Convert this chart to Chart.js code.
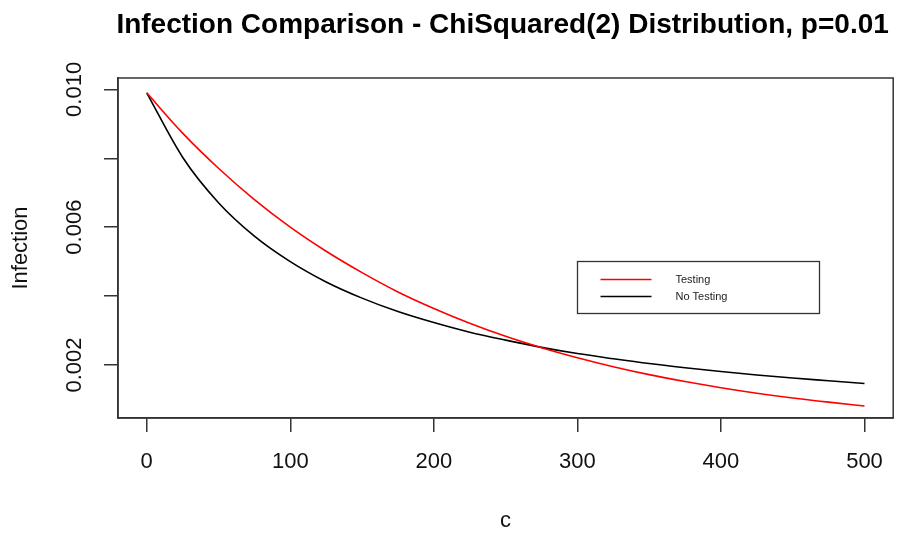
<!DOCTYPE html>
<html lang="en">
<head>
    <meta charset="UTF-8">
    <title>Infection Comparison</title>
    <script src="https://cdn.jsdelivr.net/npm/chart.js"></script>
    <style>
        html, body { margin: 0; padding: 0; background: #fff; }
        canvas { display: block; }
    </style>
</head>
<body>
    <canvas id="infectionChart" width="900" height="534"></canvas>

    <script>
        // values
        const cValues = [0, 25, 50, 75, 100, 125, 150, 175, 200, 225, 250, 275, 300, 325, 350, 375, 400, 425, 450, 475, 500];
        const testing = [0.00990, 0.00873, 0.00771, 0.00680, 0.00600, 0.00530, 0.00468, 0.00412, 0.00364, 0.00321, 0.00283,
                         0.00250, 0.00221, 0.00195, 0.00172, 0.00152, 0.00134, 0.00118, 0.00104, 0.00092, 0.00081];
        const noTesting = [0.00990, 0.00803, 0.00671, 0.00574, 0.00500, 0.00441, 0.00394, 0.00355, 0.00323, 0.00295, 0.00272,
                           0.00251, 0.00233, 0.00218, 0.00204, 0.00192, 0.00181, 0.00171, 0.00162, 0.00154, 0.00146];
        const seriesNames = ['Testing', 'No Testing'];
        const xTicks = [0, 100, 200, 300, 400, 500];
        const yTicks = [0.002, 0.004, 0.006, 0.008, 0.010];
        const yTickLabels = ['0.002', '', '0.006', '', '0.010'];

        const FONT = '"Liberation Sans", Helvetica, Arial, sans-serif';
        const AXIS = '#333';

        // title, full box and the R style legend
        const rDecor = {
            id: 'rDecor',
            afterDraw(chart) {
                const ctx = chart.ctx;
                const a = chart.chartArea;
                const xs = chart.scales.x, ys = chart.scales.y;
                ctx.save();

                ctx.strokeStyle = AXIS;
                ctx.lineWidth = 1.5;
                ctx.strokeRect(a.left, a.top, a.right - a.left, a.bottom - a.top);

                ctx.fillStyle = '#000';
                ctx.font = 'bold 28px ' + FONT;
                ctx.textAlign = 'center';
                ctx.textBaseline = 'alphabetic';
                ctx.fillText('Infection Comparison - ChiSquared(2) Distribution, p=0.01', (a.left + a.right) / 2 - 3, 33);

                // legend anchored at c=300, y=0.00502
                const lx = Math.round(xs.getPixelForValue(300)) + 0.5;
                const ly = Math.round(ys.getPixelForValue(0.00502)) + 0.5;
                ctx.lineWidth = 1.3;
                ctx.strokeStyle = AXIS;
                ctx.strokeRect(lx, ly, 242, 52);
                ctx.font = '11px ' + FONT;
                ctx.textAlign = 'left';
                ctx.textBaseline = 'middle';
                chart.data.datasets.forEach((ds, i) => {
                    const y = ly + 18 + i * 17;
                    ctx.strokeStyle = ds.borderColor;
                    ctx.lineWidth = 1.5;
                    ctx.beginPath();
                    ctx.moveTo(lx + 23, y);
                    ctx.lineTo(lx + 74, y);
                    ctx.stroke();
                    ctx.fillStyle = '#222';
                    ctx.fillText(ds.label, lx + 98, y);
                });
                ctx.restore();
            }
        };

        const ctx = document.getElementById('infectionChart').getContext('2d');
        const chart = new Chart(ctx, {
            type: 'line',
            data: {
                datasets: [
                    {
                        label: seriesNames[0],
                        data: cValues.map((c, i) => ({ x: c, y: testing[i] })),
                        borderColor: '#ff0000',
                        borderWidth: 1.6,
                        pointRadius: 0,
                        cubicInterpolationMode: 'monotone'
                    },
                    {
                        label: seriesNames[1],
                        data: cValues.map((c, i) => ({ x: c, y: noTesting[i] })),
                        borderColor: '#000000',
                        borderWidth: 1.6,
                        pointRadius: 0,
                        cubicInterpolationMode: 'monotone'
                    }
                ]
            },
            options: {
                responsive: false,
                animation: false,
                devicePixelRatio: 1,
                layout: { padding: { top: 78, right: 4, bottom: 0, left: 0 } },
                plugins: {
                    legend: { display: false },
                    title: { display: false },
                    tooltip: { enabled: false }
                },
                scales: {
                    x: {
                        type: 'linear',
                        min: -20,
                        max: 520,
                        afterBuildTicks: s => { s.ticks = xTicks.map(v => ({ value: v })); },
                        afterFit: s => { s.height = 116; },
                        grid: { drawOnChartArea: false, drawTicks: true, tickLength: 14, color: AXIS, lineWidth: 1.5 },
                        border: { display: true, color: AXIS, width: 1.5 },
                        ticks: {
                            padding: 17,
                            color: '#111',
                            font: { family: FONT, size: 22 },
                            maxRotation: 0,
                            autoSkip: false,
                            callback: v => String(v)
                        },
                        title: {
                            display: true,
                            text: 'c',
                            color: '#111',
                            font: { family: FONT, size: 22 },
                            padding: { top: 0, bottom: 0 }
                        }
                    },
                    y: {
                        type: 'linear',
                        min: 0.00046,
                        max: 0.01033,
                        afterBuildTicks: s => { s.ticks = yTicks.map(v => ({ value: v })); },
                        afterFit: s => { s.width = 118; },
                        grid: { drawOnChartArea: false, drawTicks: true, tickLength: 14, color: AXIS, lineWidth: 1.5 },
                        border: { display: true, color: AXIS, width: 1.5 },
                        ticks: {
                            padding: 2,
                            color: '#111',
                            crossAlign: 'center',
                            minRotation: 90,
                            maxRotation: 90,
                            autoSkip: false,
                            font: { family: FONT, size: 22 },
                            callback: (v, i) => yTickLabels[i]
                        },
                        title: {
                            display: true,
                            text: 'Infection',
                            color: '#111',
                            font: { family: FONT, size: 22 },
                            padding: { top: 8, bottom: 0 }
                        }
                    }
                }
            },
            plugins: [rDecor]
        });
    </script>
</body>
</html>
